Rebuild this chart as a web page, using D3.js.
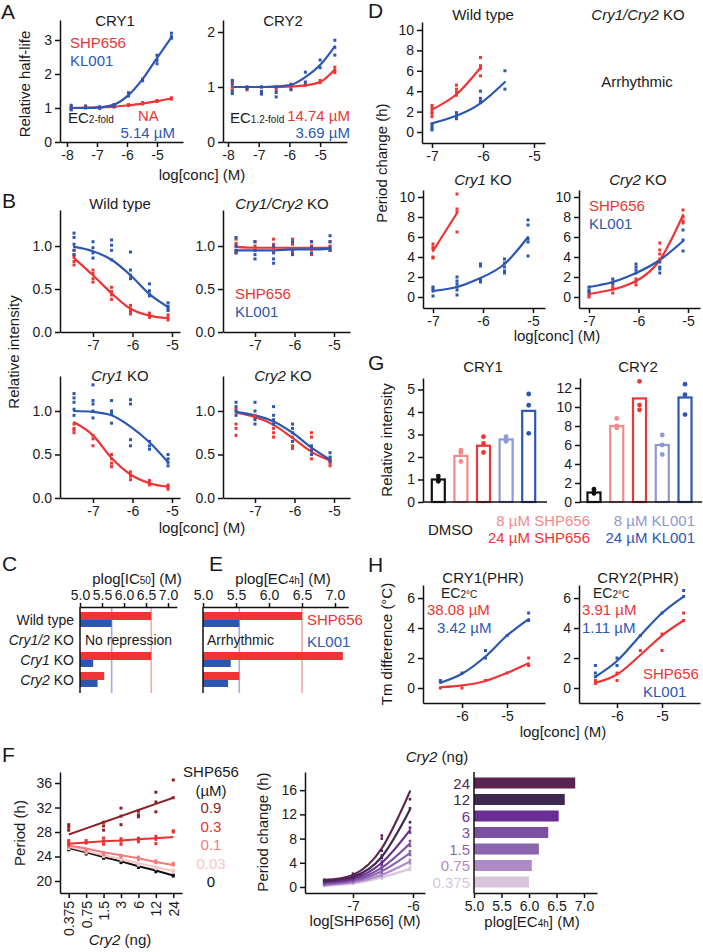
<!DOCTYPE html>
<html><head><meta charset="utf-8">
<script src="https://cdn.jsdelivr.net/npm/d3@7"></script>
<style>html,body{margin:0;padding:0;background:#fff;} svg{display:block;}</style>
</head><body>
<script>
const FONT = "'Liberation Sans', Arial, Helvetica, sans-serif";
const RED = "#ee3434", BLUE = "#2b57b3", LRED = "#f28a8a", LBLUE = "#8e98d2", INK = "#1a1a1a";

// ---------- Panel A : relative half-life ----------
const doseA = [-7.86, -7.38, -6.91, -6.43, -5.95, -5.48, -5.0, -4.52];
const aCry1Red = [[1.05,1.0,0.95],[1.06,1.02],[1.03,1.0],[1.06,1.03],[1.1,1.07],[1.16,1.12],[1.22,1.19],[1.3,1.26]];
const aCry1RedFit = [1.0,1.01,1.02,1.04,1.08,1.13,1.2,1.28];
const aCry1Blue = [[1.08,1.0,0.95],[1.05,1.0],[1.03,0.99],[1.1,1.05],[1.45,1.35],[1.85,1.8],[2.55,2.4,2.3],[3.2,3.1,3.05]];
const aCry1BlueFit = [1.0,1.0,1.02,1.1,1.38,1.85,2.47,3.08];
const aCry2Red = [[1.1,1.0,0.95],[1.0,0.95],[1.0,0.9],[1.0,0.95],[1.02,0.97],[1.06,1.03],[1.12,1.08],[1.36,1.3,1.26]];
const aCry2RedFit = [1.0,1.0,1.0,1.0,1.01,1.03,1.09,1.32];
const aCry2Blue = [[1.12,1.05,0.92,0.88],[1.0,0.97],[1.0,0.92,0.87],[1.0,0.9,0.82],[1.05,0.95],[1.27,1.09],[1.49,1.35],[1.85,1.72,1.58]];
const aCry2BlueFit = [1.0,1.0,1.0,1.01,1.04,1.18,1.4,1.74];

// ---------- Panel B : relative intensity ----------
const doseB = [-7.48, -7.0, -6.53, -6.05, -5.57, -5.1];
const bWTRed = [[0.95,0.9,0.87,0.82,0.78],[0.72,0.68,0.62,0.58],[0.52,0.47,0.43,0.38],[0.31,0.27,0.24,0.21],[0.22,0.19,0.17],[0.2,0.17,0.14]];
const bWTRedFit = [0.86,0.66,0.45,0.27,0.19,0.16];
const bWTBlue = [[1.15,1.1,1.02,0.95,0.9],[1.05,0.98,0.92,0.86],[1.07,1.01,0.95,0.84],[0.93,0.72,0.66,0.62],[0.56,0.48,0.44,0.42],[0.34,0.3,0.27,0.25]];
const bWTBlueFit = [0.99,0.94,0.84,0.66,0.44,0.29];
const bDKORed = [[1.08,1.03,1.0,0.95,0.92],[1.05,1.0,0.95],[1.08,1.02,0.98,0.93],[1.08,1.02,0.97,0.92],[1.05,1.0,0.96,0.9],[1.05,1.0,0.95]];
const bDKORedFit = [0.99,0.98,0.98,0.98,0.98,0.98];
const bDKOBlue = [[1.1,1.0,0.95,0.92],[1.05,0.95,0.9,0.85],[1.0,0.92,0.85,0.8],[1.05,0.95,0.9],[1.05,0.98,0.92],[1.12,1.05,0.98,0.95]];
const bDKOBlueFit = [0.95,0.95,0.95,0.96,0.96,0.97];
const bC1Red = [[0.85,0.8,0.78,0.75],[0.72,0.68,0.6],[0.5,0.45,0.4,0.36],[0.3,0.25,0.21],[0.2,0.17,0.15],[0.15,0.13,0.1]];
const bC1RedFit = [0.87,0.72,0.46,0.27,0.17,0.13];
const bC1Blue = [[1.2,1.15,1.1,1.02,0.95],[1.3,1.12,1.08,1.0,0.92],[1.12,1.0,0.97,0.86],[1.13,1.08,0.67,0.6],[0.65,0.6,0.56],[0.5,0.45,0.41,0.37]];
const bC1BlueFit = [1.0,0.99,0.95,0.82,0.64,0.41];
const bC2Red = [[1.02,0.85,0.8,0.72],[0.95,0.92],[0.85,0.8,0.75,0.7],[0.7,0.65,0.6,0.57],[0.75,0.7,0.55,0.5,0.45],[0.45,0.42,0.4,0.37]];
const bC2RedFit = [0.98,0.93,0.84,0.69,0.53,0.43];
const bC2Blue = [[1.1,1.05,1.0,0.95],[1.1,1.0,0.9,0.85],[1.05,0.95,0.9,0.85],[0.85,0.8,0.75,0.65],[0.6,0.55,0.5],[0.52,0.47,0.43]];
const bC2BlueFit = [0.99,0.95,0.88,0.75,0.58,0.44];

// ---------- Panels C / E : potency bars ----------
const ceRows = ["Wild type","Cry1/2 KO","Cry1 KO","Cry2 KO"];
const cIC50Red = [6.62, null, 6.62, 5.55];
const cIC50Blue = [5.72, null, 5.3, 5.4];
const eEC4hRed = [6.5, null, 7.12, 5.55];
const eEC4hBlue = [5.55, null, 5.42, 5.38];
const ceTicks = [5.0, 5.5, 6.0, 6.5, 7.0];

// ---------- Panel D : period change ----------
const doseD = [-7.0, -6.52, -6.05, -5.57, -5.1];
const dWTRed = [[2.6,2.3,2.0,1.8,1.5],[4.6,4.2,3.9,3.6],[7.3,6.5,6.2,5.5]];
const dWTRedFit = [2.2,3.7,6.3];
const dWTBlue = [[0.8,0.6,0.35,0.2],[1.9,1.6,1.4,1.3],[4.0,3.3,3.0,2.9],[6.0,4.2]];
const dWTBlueFit = [0.85,1.6,2.8,4.9];
const dC1Red = [[5.3,5.0,4.8,4.0,3.9],[10.3,8.8,8.5,6.5]];
const dC1RedFit = [4.6,8.4];
const dC1Blue = [[1.0,0.8,0.6,0.1],[2.0,1.6,1.3,1.0,0.7,0.2],[3.3,3.1,1.7,1.5],[3.8,3.4,3.0,2.6,2.4],[7.7,7.2,5.8,5.5,4.1]];
const dC1BlueFit = [0.6,1.0,1.9,3.3,6.0];
const dC2Red = [[0.5,0.2,0.0],[1.0,0.8,0.4],[1.8,1.5,1.2],[5.4,4.7,4.3,3.8],[8.7,8.0,7.6,7.4]];
const dC2RedFit = [0.3,0.75,1.6,3.7,8.2];
const dC2Blue = [[1.0,0.7,0.5],[1.8,1.5,1.3],[3.3,3.0,2.7,2.4],[3.5,3.0,2.8,2.4],[6.7,5.7,4.6]];
const dC2BlueFit = [1.0,1.5,2.4,3.7,5.6];

// ---------- Panel G : CRY levels ----------
const gCats = ["DMSO","8 µM SHP656","24 µM SHP656","8 µM KL001","24 µM KL001"];
const gColors = ["#111111", LRED, RED, LBLUE, BLUE];
const gCry1 = [1.0, 2.05, 2.5, 2.78, 4.05];
const gCry1Pts = [[1.15,1.0,0.92],[2.3,2.2,1.8],[2.9,2.6,2.2],[2.9,2.75,2.7],[4.8,4.3,3.05]];
const gCry2 = [1.0, 8.0, 10.9, 6.0, 11.0];
const gCry2Pts = [[1.35,1.0,0.9],[8.8,8.0,7.8],[12.7,10.2,9.7],[7.05,6.0,5.0],[12.4,11.3,9.2]];

// ---------- Panel H : thermal shift ----------
const doseH = [-6.48, -6.0, -5.48, -5.0, -4.52];
const hCry1Red = [[0.0],[0.0],[0.5],[1.0],[2.0,1.5]];
const hCry1RedFit = [0.05,0.17,0.47,1.0,1.65];
const hCry1Blue = [[0.5,0.4],[1.0],[2.5,2.0],[3.5],[5.0,4.5]];
const hCry1BlueFit = [0.35,0.95,2.1,3.5,4.6];
const hCry2Red = [[0.5,0.3],[1.0,0.5],[2.5],[3.6,2.5],[5.0,4.5]];
const hCry2RedFit = [0.35,0.9,2.2,3.5,4.5];
const hCry2Blue = [[1.5,1.0,0.75],[2.0,1.5],[3.5],[5.0],[6.5,6.1]];
const hCry2BlueFit = [0.75,1.8,3.5,5.0,6.1];

// ---------- Panel F ----------
const fCry2 = ["0.375","0.75","1.5","3","6","12","24"];
const fSHP = ["0.9","0.3","0.1","0.03","0"];
const fSHPColors = ["#8e1f25","#ec3030","#f27b7b","#f8c6c6","#111111"];
const fPeriodFit = [
  [27.6,28.6,29.6,30.6,31.6,32.6,33.6],
  [26.1,26.3,26.5,26.6,26.8,27.0,27.2],
  [25.8,25.3,24.7,24.2,23.7,23.1,22.6],
  [25.6,24.9,24.2,23.6,22.9,22.3,21.6],
  [25.4,24.7,23.9,23.2,22.4,21.7,20.9]];
const fPeriodPts = [
  [[29.2,28.8,28.3],[],[29.6,29.0,28.3],[31.9,30.6,29.2],[31.4,30.8,30.5],[34.5,32.9,31.3],[36.5,33.6]],
  [[26.6,26.2,25.9],[26.6,26.2],[27.0,26.5,26.0],[26.9,26.5,26.0],[27.0,26.7,26.4],[27.3,26.8,26.1],[28.2,28.0]],
  [[25.9,25.6],[25.2,24.9],[24.6,24.3],[24.2,23.9],[23.9,23.5],[23.3,23.0],[22.9,22.6]],
  [[25.6,25.3],[24.9,24.6],[24.3,24.0],[23.7,23.4],[22.9,22.6],[22.3,22.0],[21.8,21.4]],
  [[25.4,25.1],[24.6,24.4],[24.0,23.7],[23.3,23.0],[22.5,22.2],[21.8,21.5],[21.0,20.8]]];
const fDose = [-7.48, -7.0, -6.52, -6.05];
const fLevels = ["24","12","6","3","1.5","0.75","0.375"];
const fLevelColors = ["#5b2352","#3e2a50","#6b2c94","#7d4fa1","#8c66ad","#b08ac6","#dcc4e1"];
const fChangeFit = [
  [1.2,2.0,6.4,15.8],[1.0,1.7,5.0,12.8],[0.8,1.4,4.0,9.4],[0.6,1.2,3.2,7.2],
  [0.5,1.0,2.6,5.6],[0.3,0.8,2.0,4.2],[0.2,0.6,1.6,3.0]];
const fChangePts = [
  [[1.2],[2.2,1.8],[8.5,8.0,6.0],[14.5]],
  [[1.0],[1.8,1.6],[5.2,4.8],[13.0,10.7]],
  [[0.8],[1.5,1.3],[4.2,3.8],[9.8,9.0]],
  [[0.6],[1.3,1.1],[3.4,3.0],[7.6,6.8]],
  [[0.5],[1.1,0.9],[2.8,2.4],[5.9,5.3]],
  [[0.3],[0.9,0.7],[2.2,1.8],[4.5,3.9]],
  [[0.2],[0.7,0.5],[1.8,1.4],[3.3,2.8]]];
const fEC4h = [6.84, 6.65, 6.54, 6.35, 6.18, 6.05, 6.0];
const fECTicks = [5.0, 5.5, 6.0, 6.5, 7.0];

// ======================================================
const svg = d3.select('body').append('svg').attr('width',703).attr('height',952)
  .style('font-family',FONT);

function styleAxis(g){
  g.attr('font-family',FONT).attr('font-size',14);
  g.selectAll('path.domain').attr('stroke','#111').attr('stroke-width',1.5);
  g.selectAll('.tick line').attr('stroke','#111').attr('stroke-width',1.5);
  g.selectAll('.tick text').attr('fill',INK);
}
function txt(x,y,s,o={}){
  const t = svg.append('text').attr('x',x).attr('y',y).text(s)
    .attr('font-size',o.size||15).attr('fill',o.fill||INK)
    .attr('text-anchor',o.anchor||'start');
  if(o.italic) t.attr('font-style','italic');
  if(o.rot) t.attr('transform',`rotate(-90,${x},${y})`);
  return t;
}
function rich(x,y,parts,o={}){
  const t = svg.append('text').attr('x',x).attr('y',y)
    .attr('font-size',o.size||15).attr('fill',o.fill||INK)
    .attr('text-anchor',o.anchor||'start');
  parts.forEach(p=>{
    const s = typeof p==='string'?{t:p}:p;
    const ts = t.append('tspan').text(s.t);
    if(s.i) ts.attr('font-style','italic');
    if(s.sub) ts.attr('font-size',s.sub);
    if(s.fill) ts.attr('fill',s.fill);
  });
  return t;
}
function letter(x,y,s){ txt(x,y,s,{size:21}); }

function xyPanel(c){
  const g = svg.append('g');
  const x = d3.scaleLinear().domain(c.xd).range(c.xr);
  const y = d3.scaleLinear().domain(c.yd).range(c.yr);
  const ax = g.append('g').attr('transform',`translate(0,${c.yr[0]})`)
    .call(d3.axisBottom(x).tickValues(c.xt).tickSize(5).tickSizeOuter(0).tickPadding(c.xpad||3)
      .tickFormat(c.xf||(d=>String(d))));
  const ay = g.append('g').attr('transform',`translate(${c.xr[0]},0)`)
    .call(d3.axisLeft(y).tickValues(c.yt).tickSize(5).tickSizeOuter(0)
      .tickFormat(c.yf||(d=>String(d))));
  styleAxis(ax); styleAxis(ay);
  return {g,x,y};
}
function pts(p,dose,vals,color,sz){
  const s = sz||3;
  const flat = [];
  vals.forEach((arr,i)=>arr.forEach(v=>flat.push([dose[i],v])));
  p.g.append('g').selectAll('rect').data(flat).join('rect')
    .attr('x',d=>p.x(d[0])-s/2).attr('y',d=>p.y(d[1])-s/2)
    .attr('width',s).attr('height',s).attr('fill',color);
}
function fit(p,dose,vals,color,curve){
  p.g.append('path').datum(vals).attr('fill','none').attr('stroke',color)
    .attr('stroke-width',2.2).attr('stroke-linecap','round')
    .attr('d',d3.line().x((d,i)=>p.x(dose[i])).y(d=>p.y(d)).curve(curve||d3.curveMonotoneX));
}
function series(p,dose,ptsR,fitR,ptsB,fitB,curve){
  fit(p,dose,fitR,RED,curve); fit(p,dose,fitB,BLUE,curve);
  pts(p,dose,ptsR,RED); pts(p,dose,ptsB,BLUE);
}

// ================= Panel A =================
letter(1,19,'A');
{
  const p1 = xyPanel({xr:[60,183],xd:[-8.233,-4.133],yr:[142,20],yd:[0,3.588],xt:[-8,-7,-6,-5],yt:[0,1,2,3]});
  series(p1,doseA,aCry1Red,aCry1RedFit,aCry1Blue,aCry1BlueFit);
  const p2 = xyPanel({xr:[223,347],xd:[-8.163,-4.124],yr:[142,20],yd:[0,2.218],xt:[-8,-7,-6,-5],yt:[0,1,2]});
  series(p2,doseA,aCry2Red,aCry2RedFit,aCry2Blue,aCry2BlueFit);
  txt(115,26,'CRY1',{anchor:'middle'});
  txt(283,26,'CRY2',{anchor:'middle'});
  txt(70,48,'SHP656',{fill:RED});
  txt(70,66,'KL001',{fill:BLUE});
  rich(68,123,['EC',{t:'2-fold',sub:10}]);
  txt(138,121,'NA',{fill:RED});
  txt(175,138,'5.14 µM',{fill:BLUE,anchor:'end'});
  rich(230,123,['EC',{t:'1.2-fold',sub:10}]);
  txt(350,121,'14.74 µM',{fill:RED,anchor:'end'});
  txt(350,138,'3.69 µM',{fill:BLUE,anchor:'end'});
  txt(202,180,'log[conc] (M)',{anchor:'middle'});
  txt(30,84,'Relative half-life',{anchor:'middle',rot:true});
}

// ================= Panel B =================
letter(2,208,'B');
{
  const xdL=[-7.835,-4.797], xdR=[-7.81,-4.595], xt=[-7,-6,-5], yt=[0,0.5,1.0], yf=d3.format('.1f');
  const p1 = xyPanel({xr:[60,180],xd:xdL,yr:[332,210],yd:[0,1.419],xt,yt,yf});
  series(p1,doseB,bWTRed,bWTRedFit,bWTBlue,bWTBlueFit);
  const p2 = xyPanel({xr:[223,350],xd:xdR,yr:[332,210],yd:[0,1.419],xt,yt,yf});
  series(p2,doseB,bDKORed,bDKORedFit,bDKOBlue,bDKOBlueFit);
  const p3 = xyPanel({xr:[60,180],xd:xdL,yr:[498,376],yd:[0,1.402],xt,yt,yf});
  series(p3,doseB,bC1Red,bC1RedFit,bC1Blue,bC1BlueFit);
  const p4 = xyPanel({xr:[223,350],xd:xdR,yr:[498,376],yd:[0,1.402],xt,yt,yf});
  series(p4,doseB,bC2Red,bC2RedFit,bC2Blue,bC2BlueFit);
  txt(120,209,'Wild type',{anchor:'middle'});
  rich(282,209,[{t:'Cry1/Cry2',i:true},' KO'],{anchor:'middle'});
  rich(120,381,[{t:'Cry1',i:true},' KO'],{anchor:'middle'});
  rich(283,381,[{t:'Cry2',i:true},' KO'],{anchor:'middle'});
  txt(235,299,'SHP656',{fill:RED});
  txt(235,317,'KL001',{fill:BLUE});
  txt(202,533,'log[conc] (M)',{anchor:'middle'});
  txt(19,352,'Relative intensity',{anchor:'middle',rot:true});
}

// ================= Panels C & E =================
function potency(c, redV, blueV){
  const g = svg.append('g');
  const x = d3.scaleLinear().domain([5,7.2]).range(c.xr);
  const y = d3.scaleBand().domain(ceRows).range([610,690]);
  const top = 607, bot = 693;
  g.append('line').attr('x1',x(redV[0])).attr('x2',x(redV[0])).attr('y1',top).attr('y2',bot)
    .attr('stroke','#f6a8a8').attr('stroke-width',1.6);
  g.append('line').attr('x1',x(blueV[0])).attr('x2',x(blueV[0])).attr('y1',top).attr('y2',bot)
    .attr('stroke','#a3aade').attr('stroke-width',1.6);
  ceRows.forEach((r,i)=>{
    const cy = y(r)+y.bandwidth()/2;
    if(redV[i]!=null) g.append('rect').attr('x',x(5)).attr('y',cy-8).attr('width',x(redV[i])-x(5)).attr('height',8).attr('fill',RED);
    if(blueV[i]!=null) g.append('rect').attr('x',x(5)).attr('y',cy).attr('width',x(blueV[i])-x(5)).attr('height',7).attr('fill',BLUE);
  });
  const ax = g.append('g').attr('transform',`translate(0,${top})`)
    .call(d3.axisTop(x).tickValues(ceTicks).tickSize(4).tickSizeOuter(0).tickFormat(d3.format('.1f')));
  styleAxis(ax);
  g.append('line').attr('x1',x(5)).attr('x2',x(5)).attr('y1',top).attr('y2',bot).attr('stroke','#111').attr('stroke-width',1.5);
  return {x,y};
}
letter(2,571,'C');
letter(209,571,'E');
{
  const c = potency({xr:[80,176.8]}, cIC50Red, cIC50Blue);
  const e = potency({xr:[203,348.2]}, eEC4hRed, eEC4hBlue);
  rich(137,584,['plog[IC',{t:'50',sub:10},'] (M)'],{anchor:'middle'});
  rich(283,584,['plog[EC',{t:'4h',sub:10},'] (M)'],{anchor:'middle'});
  ceRows.forEach((r,i)=>{
    const cy = c.y(r)+c.y.bandwidth()/2+5;
    if(i===0) txt(74,cy,r,{anchor:'end',size:14});
    else {
      const parts = r.split(' ');
      rich(74,cy,[{t:parts[0],i:true},' '+parts[1]],{anchor:'end',size:14});
    }
  });
  const r2 = c.y(ceRows[1])+c.y.bandwidth()/2+5;
  txt(85,r2,'No repression',{size:14});
  txt(207,r2,'Arrhythmic',{size:14});
  txt(307,c.y(ceRows[0])+c.y.bandwidth()/2+5,'SHP656',{fill:RED});
  txt(307,r2+2,'KL001',{fill:BLUE});
}

// ================= Panel D =================
letter(368,18,'D');
{
  const yt=[0,2,4,6,8,10], xt=[-7,-6,-5];
  const p1 = xyPanel({xr:[422,545],xd:[-7.196,-4.784],yr:[143,22],yd:[-1.078,10.78],xt,yt});
  fit(p1,doseD,dWTRedFit,RED,d3.curveNatural); fit(p1,doseD,dWTBlueFit,BLUE,d3.curveNatural);
  pts(p1,doseD,dWTRed,RED); pts(p1,doseD,dWTBlue,BLUE);
  const p2 = xyPanel({xr:[423,545],xd:[-7.2,-4.76],yr:[308,190],yd:[-1.1,10.7],xt,yt});
  fit(p2,doseD,dC1RedFit,RED,d3.curveNatural); fit(p2,doseD,dC1BlueFit,BLUE,d3.curveNatural);
  pts(p2,doseD,dC1Red,RED); pts(p2,doseD,dC1Blue,BLUE);
  const p3 = xyPanel({xr:[579,700],xd:[-7.202,-4.758],yr:[308,190],yd:[-1.1,10.7],xt,yt});
  fit(p3,doseD,dC2RedFit,RED,d3.curveNatural); fit(p3,doseD,dC2BlueFit,BLUE,d3.curveNatural);
  pts(p3,doseD,dC2Red,RED); pts(p3,doseD,dC2Blue,BLUE);
  txt(483,20,'Wild type',{anchor:'middle'});
  rich(638,20,[{t:'Cry1/Cry2',i:true},' KO'],{anchor:'middle'});
  txt(637,87,'Arrhythmic',{anchor:'middle'});
  rich(483,185,[{t:'Cry1',i:true},' KO'],{anchor:'middle'});
  rich(638,185,[{t:'Cry2',i:true},' KO'],{anchor:'middle'});
  txt(589,211,'SHP656',{fill:RED});
  txt(589,229,'KL001',{fill:BLUE});
  txt(557,341,'log[conc] (M)',{anchor:'middle'});
  txt(387,163,'Period change (h)',{anchor:'middle',rot:true});
}

// ================= Panel G =================
letter(368,370,'G');
function barPanel(c, means, ptsArr){
  const g = svg.append('g');
  const x = d3.scalePoint().domain(gCats).range(c.pr).padding(0.5);
  const y = d3.scaleLinear().domain(c.yd).range([502,378]);
  g.selectAll('rect').data(means).join('rect')
    .attr('x',(d,i)=>x(gCats[i])-6.5).attr('y',d=>y(d)).attr('width',13)
    .attr('height',d=>y(0)-y(d)).attr('fill','#fff')
    .attr('stroke',(d,i)=>gColors[i]).attr('stroke-width',2.2);
  const flat=[]; ptsArr.forEach((a,i)=>a.forEach(v=>flat.push([i,v])));
  g.selectAll('circle').data(flat).join('circle')
    .attr('cx',d=>x(gCats[d[0]])).attr('cy',d=>y(d[1])).attr('r',2.4)
    .attr('fill',d=>gColors[d[0]]);
  g.append('line').attr('x1',c.xr[0]).attr('x2',c.xr[1]).attr('y1',502).attr('y2',502).attr('stroke','#111').attr('stroke-width',1.5);
  const ay = g.append('g').attr('transform',`translate(${c.xr[0]},0)`)
    .call(d3.axisLeft(y).tickValues(c.yt).tickSize(5).tickSizeOuter(0).tickFormat(d=>String(d)));
  styleAxis(ay);
}
{
  barPanel({xr:[423,547],pr:[427,540],yd:[0,5.51],yt:[0,1,2,3,4,5]}, gCry1, gCry1Pts);
  barPanel({xr:[580,702],pr:[582.6,696.4],yd:[0,13.05],yt:[0,2,4,6,8,10,12]}, gCry2, gCry2Pts);
  txt(483,372,'CRY1',{anchor:'middle'});
  txt(638,372,'CRY2',{anchor:'middle'});
  txt(392,440,'Relative intensity',{anchor:'middle',rot:true});
  txt(428,535,gCats[0]);
  txt(590,526,gCats[1],{anchor:'end',fill:gColors[1]});
  txt(590,543,gCats[2],{anchor:'end',fill:gColors[2]});
  txt(695,526,gCats[3],{anchor:'end',fill:gColors[3]});
  txt(695,543,gCats[4],{anchor:'end',fill:gColors[4]});
}

// ================= Panel H =================
letter(368,572,'H');
{
  const xt=[-6,-5], yt=[0,2,4,6];
  const p1 = xyPanel({xr:[423,545],xd:[-6.867,-4.156],yr:[703,585],yd:[-1.0,6.87],xt,yt});
  series(p1,doseH,hCry1Red,hCry1RedFit,hCry1Blue,hCry1BlueFit);
  const p2 = xyPanel({xr:[579,700],xd:[-6.844,-4.156],yr:[703,585],yd:[-1.0,6.87],xt,yt});
  series(p2,doseH,hCry2Red,hCry2RedFit,hCry2Blue,hCry2BlueFit);
  txt(483,583,'CRY1(PHR)',{anchor:'middle'});
  txt(638,583,'CRY2(PHR)',{anchor:'middle'});
  rich(441,598,['EC',{t:'2°C',sub:10}],{size:14});
  txt(427,615,'38.08 µM',{fill:RED});
  txt(437,633,'3.42 µM',{fill:BLUE});
  rich(593,598,['EC',{t:'2°C',sub:10}],{size:14});
  txt(582,615,'3.91 µM',{fill:RED});
  txt(582,633,'1.11 µM',{fill:BLUE});
  txt(643,679,'SHP656',{fill:RED});
  txt(643,697,'KL001',{fill:BLUE});
  txt(563,737,'log[conc] (M)',{anchor:'middle'});
  txt(392,644,'Tm difference (°C)',{anchor:'middle',rot:true});
}

// ================= Panel F =================
letter(2,762,'F');
{
  // F1: period vs Cry2 amount
  const g = svg.append('g');
  const x = d3.scalePoint().domain(fCry2).range([60,182]).padding(0.5);
  const y = d3.scaleLinear().domain([18.04,37.8]).range([893,772]);
  const ax = g.append('g').attr('transform','translate(0,893)')
    .call(d3.axisBottom(x).tickSize(5).tickSizeOuter(0));
  styleAxis(ax);
  ax.selectAll('.tick text').attr('transform','rotate(-90)').attr('text-anchor','end')
    .attr('x',-8).attr('y',0).attr('dy','0.35em');
  const ay = g.append('g').attr('transform','translate(60,0)')
    .call(d3.axisLeft(y).tickValues([20,24,28,32,36]).tickSize(5).tickSizeOuter(0));
  styleAxis(ay);
  fPeriodFit.slice().reverse().forEach((f,ri)=>{
    const k = fPeriodFit.length-1-ri;
    g.append('path').datum(f).attr('fill','none').attr('stroke',fSHPColors[k]).attr('stroke-width',2)
      .attr('d',d3.line().x((d,i)=>x(fCry2[i])).y(d=>y(d)));
    const flat=[]; fPeriodPts[k].forEach((a,i)=>a.forEach(v=>flat.push([fCry2[i],v])));
    g.append('g').selectAll('rect').data(flat).join('rect')
      .attr('x',d=>x(d[0])-1.5).attr('y',d=>y(d[1])-1.5).attr('width',3).attr('height',3)
      .attr('fill',fSHPColors[k]);
  });
  txt(211,777,'SHP656',{anchor:'middle'});
  txt(211,796,'(µM)',{anchor:'middle'});
  fSHP.forEach((s,i)=>txt(211,813+i*18.5,s,{anchor:'middle',fill:fSHPColors[i]}));
  rich(120,945,[{t:'Cry2',i:true},' (ng)'],{anchor:'middle'});
  txt(25,833,'Period (h)',{anchor:'middle',rot:true});
}
{
  // F2: period change vs SHP656
  const p = xyPanel({xr:[305,425],xd:[-7.8,-5.8],yr:[893,772],yd:[-0.99,19.0],xt:[-7,-6],yt:[0,4,8,12,16]});
  fChangeFit.slice().reverse().forEach((f,ri)=>{
    const k = fChangeFit.length-1-ri;
    fit(p,fDose,f,fLevelColors[k],d3.curveNatural);
    pts(p,fDose,fChangePts[k],fLevelColors[k],2.6);
  });
  txt(365,926,'log[SHP656] (M)',{anchor:'middle'});
  txt(268,832,'Period change (h)',{anchor:'middle',rot:true});
}
{
  // F3: plog EC4h bars
  const g = svg.append('g');
  const x = d3.scaleLinear().domain([5,7.236]).range([474,597]);
  const y = d3.scaleBand().domain(fLevels).range([774.75,890.25]).paddingInner(0.333).paddingOuter(0.1665);
  g.selectAll('rect').data(fEC4h).join('rect')
    .attr('x',x(5)).attr('y',(d,i)=>y(fLevels[i])).attr('width',d=>x(d)-x(5))
    .attr('height',y.bandwidth()).attr('fill',(d,i)=>fLevelColors[i]);
  const ax = g.append('g').attr('transform','translate(0,893)')
    .call(d3.axisBottom(x).tickValues(fECTicks).tickSize(5).tickSizeOuter(0).tickFormat(d3.format('.1f')));
  styleAxis(ax);
  g.append('line').attr('x1',474).attr('x2',474).attr('y1',772).attr('y2',893).attr('stroke','#111').attr('stroke-width',1.5);
  fLevels.forEach((l,i)=>txt(470,y(l)+y.bandwidth()/2+5.5,l,{anchor:'end',fill:fLevelColors[i]}));
  rich(437,762,[{t:'Cry2',i:true},' (ng)'],{anchor:'middle'});
  rich(532,927,['plog[EC',{t:'4h',sub:10},'] (M)'],{anchor:'middle'});
}
</script>
</body></html>
